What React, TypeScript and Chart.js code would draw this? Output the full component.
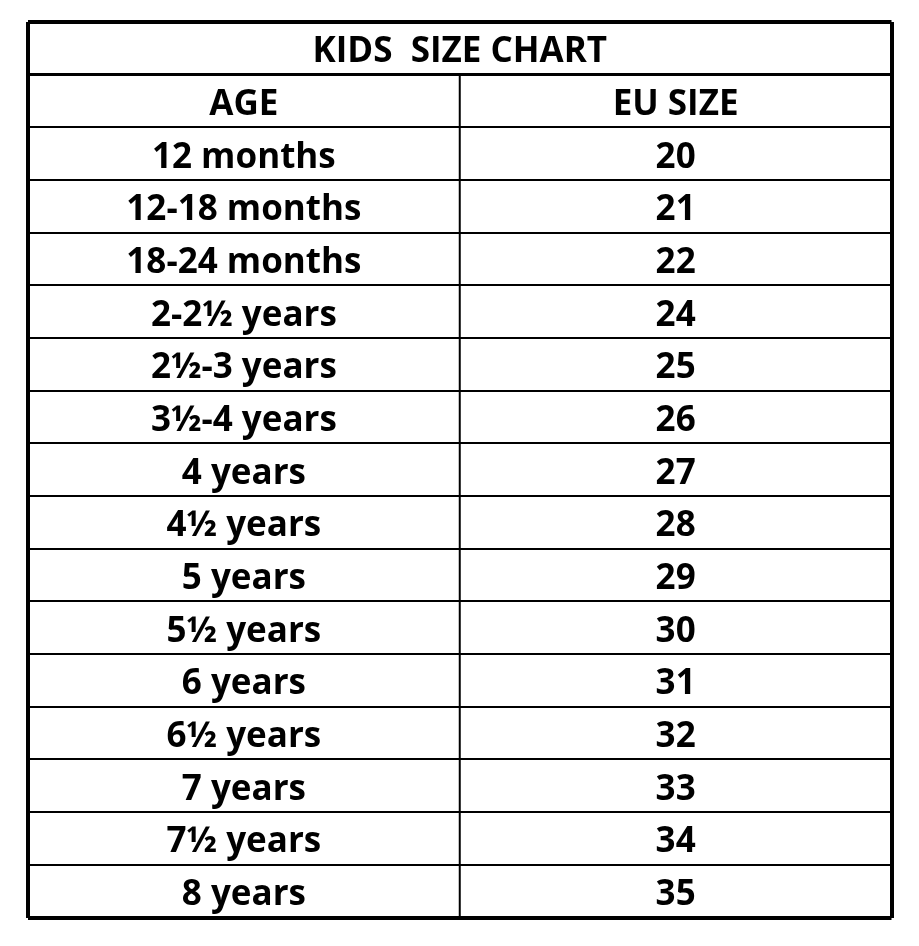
import { useEffect, useRef } from "react";
import { Chart, registerables } from "chart.js";

Chart.register(...registerables);

const title = "KIDS  SIZE CHART";
const headers = ["AGE", "EU SIZE"];
const ages = [
  "12 months",
  "12-18 months",
  "18-24 months",
  "2-2½ years",
  "2½-3 years",
  "3½-4 years",
  "4 years",
  "4½ years",
  "5 years",
  "5½ years",
  "6 years",
  "6½ years",
  "7 years",
  "7½ years",
  "8 years",
];
const euSizes = [20, 21, 22, 24, 25, 26, 27, 28, 29, 30, 31, 32, 33, 34, 35];

const rowCount = ages.length + 2; // title + header + data rows
const FONT = 'bold 35px "Open Sans", "Noto Sans", sans-serif';

// writes the cell texts at the centre of each cell, using the chart scales
const cellText = {
  id: "cellText",
  afterDatasetsDraw(chart: any) {
    const { ctx, scales } = chart;
    const x = scales.x;
    const y = scales.y;
    ctx.save();
    ctx.font = FONT;
    ctx.fillStyle = "#000";
    ctx.textAlign = "center";
    ctx.textBaseline = "alphabetic";
    const cap = ctx.measureText("H").actualBoundingBoxAscent;
    const put = (text: string, col: number, row: number) => {
      const px = x.getPixelForValue(col);
      const py = y.getPixelForValue(row + 0.5) + cap / 2 + 1;
      ctx.fillText(text, px, py);
    };
    put(title, 1, 0);
    headers.forEach((h, i) => put(h, i + 0.5, 1));
    ages.forEach((a, i) => {
      put(a, 0.5, i + 2);
      put(String(euSizes[i]), 1.5, i + 2);
    });
    ctx.restore();
  },
};

export default function App() {
  const canvasRef = useRef<HTMLCanvasElement>(null);

  useEffect(() => {
    if (!canvasRef.current) return;
    const chart = new Chart(canvasRef.current, {
      type: "scatter",
      data: {
        datasets: [
          {
            // column divider, below the title row
            data: [
              { x: 1, y: 1 },
              { x: 1, y: rowCount },
            ],
            showLine: true,
            pointRadius: 0,
            borderColor: "#000",
            borderWidth: 2,
          },
        ],
      },
      options: {
        responsive: false,
        animation: false,
        layout: { padding: { left: 28, top: 22, right: 27.5, bottom: 28.5 } },
        plugins: { legend: { display: false }, tooltip: { enabled: false } },
        scales: {
          x: {
            type: "linear",
            min: 0,
            max: 2,
            ticks: { display: false, stepSize: 1 },
            border: { display: false },
            grid: {
              drawTicks: false,
              color: (c: any) => (c.tick && c.tick.value === 1 ? "rgba(0,0,0,0)" : "#000"),
              lineWidth: 4,
            },
          },
          y: {
            type: "linear",
            min: 0,
            max: rowCount,
            reverse: true,
            ticks: { display: false, stepSize: 1 },
            border: { display: false },
            grid: {
              drawTicks: false,
              color: "#000",
              lineWidth: (c: any) => {
                const v = c.tick ? c.tick.value : 0;
                if (v === 0 || v === rowCount) return 4;
                if (v === 1) return 3;
                return 2;
              },
            },
          },
        },
      },
      plugins: [cellText],
    });
    return () => chart.destroy();
  }, []);

  return (
    <div style={{ position: "absolute", left: 0, top: 0, width: 919, height: 946, background: "#fff" }}>
      <canvas ref={canvasRef} width={919} height={946} />
    </div>
  );
}
